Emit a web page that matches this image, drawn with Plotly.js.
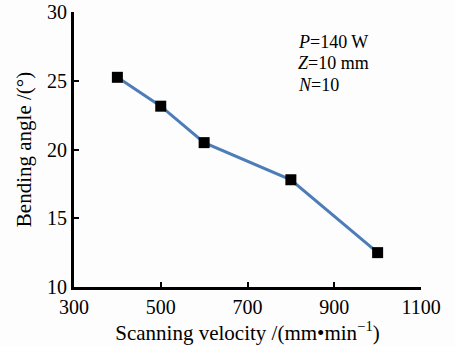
<!DOCTYPE html>
<html>
<head>
<meta charset="utf-8">
<script src="https://cdn.plot.ly/plotly-3.0.1.min.js"></script>
<style>
  html, body { margin: 0; padding: 0; background: #fdfdfd; }
  #chart { width: 455px; height: 346px; }
</style>
</head>
<body>
<div id="chart"></div>
<script>
// Bending angle versus laser scanning velocity
const velocity = [400, 500, 600, 800, 1000];
const bendingAngle = [25.25, 23.15, 20.5, 17.8, 12.5];
const xTicks = [300, 500, 700, 900, 1100];
const yTicks = [10, 15, 20, 25, 30];
const conditions = ['<i>P</i>=140 W', '<i>Z</i>=10 mm', '<i>N</i>=10'];

const serif = 'Liberation Serif, DejaVu Serif, serif';

const trace = {
  x: velocity,
  y: bendingAngle,
  type: 'scatter',
  mode: 'lines+markers',
  line: { color: '#4d7db8', width: 3 },
  marker: { symbol: 'square', size: 11, color: '#000000' },
  cliponaxis: false,
  hoverinfo: 'skip'
};

const plotL = 74, plotR = 421, plotT = 12, plotB = 287;

const layout = {
  width: 455,
  height: 346,
  margin: { l: plotL, r: 455 - plotR, t: plotT, b: 346 - plotB },
  paper_bgcolor: '#fdfdfd',
  plot_bgcolor: '#fdfdfd',
  showlegend: false,
  font: { family: serif, color: '#000000', size: 20 },
  xaxis: {
    range: [300, 1100],
    tickvals: xTicks,
    ticktext: xTicks.map(String),
    ticks: 'inside',
    ticklen: 5,
    tickwidth: 2,
    tickcolor: '#000',
    showline: true,
    linecolor: '#000',
    linewidth: 3,
    showgrid: false,
    zeroline: false,
    tickfont: { family: serif, size: 20 },
    title: { text: 'Scanning velocity /(mm\u2022min<sup>\u22121</sup>)', font: { family: serif, size: 21 }, standoff: 0 }
  },
  yaxis: {
    range: [10, 30],
    tickvals: yTicks,
    ticktext: yTicks.map(String),
    ticks: 'inside',
    ticklen: 5,
    tickwidth: 2,
    tickcolor: '#000',
    showline: true,
    linecolor: '#000',
    linewidth: 3,
    showgrid: false,
    zeroline: false,
    tickfont: { family: serif, size: 20 },
    title: { text: 'Bending angle /(\u00b0)', font: { family: serif, size: 21 }, standoff: 10 }
  },
  annotations: conditions.map((t, i) => ({
    text: t,
    xref: 'paper',
    yref: 'paper',
    x: (296 - plotL) / (plotR - plotL),
    y: (plotB - 42 - i * 21.5) / (plotB - plotT),
    xanchor: 'left',
    yanchor: 'middle',
    showarrow: false,
    font: { family: serif, size: 18, color: '#000' }
  }))
};

Plotly.newPlot('chart', [trace], layout, { displayModeBar: false, staticPlot: true });
</script>
</body>
</html>
